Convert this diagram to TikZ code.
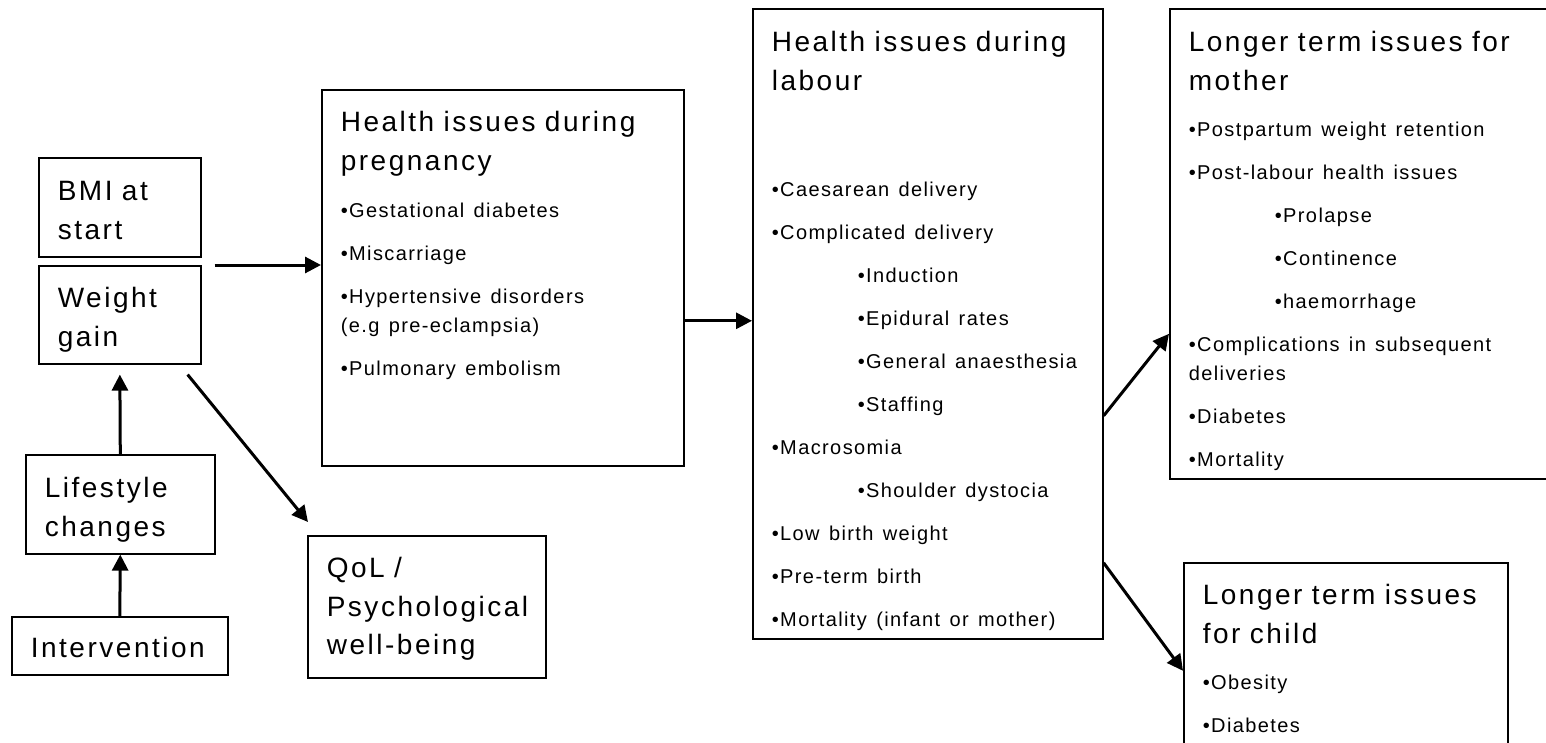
\documentclass[tikz,border=0pt]{standalone}
\usepackage{fontspec}
\setmainfont{Liberation Sans}[LetterSpace=7]
\usepackage{tikz}
\usetikzlibrary{arrows.meta}
\pgfdeclarelayer{nodelayer}
\pgfdeclarelayer{edgelayer}
\pgfsetlayers{edgelayer,nodelayer,main}
\newcommand{\headfont}{\addfontfeature{LetterSpace=9}\fontsize{28}{38.5}\selectfont}
\newcommand{\itemfont}{\addfontfeature{LetterSpace=7}\fontsize{20}{29}\selectfont}
\newcommand{\subbullet}{\hspace*{86pt}•}
\tikzstyle{box}=[fill=white, draw=black, line width=1.6pt, shape=rectangle, anchor=north west, inner xsep=19pt, inner ysep=0pt, align=left, font=\headfont]
\tikzstyle{directed edge}=[-{Triangle[length=16pt,width=16pt]}, line width=3pt]

\begin{document}
\begin{tikzpicture}[x=1pt, y=-1pt]
	\useasboundingbox (0, 0) rectangle (1546, 743);
	\begin{pgfonlayer}{nodelayer}
		\node [style=box, text width=124pt, text height=43pt, text depth=56pt] (0) at (38, 157) {BMI at\\start};
		\node [style=box, text width=124pt, text height=42pt, text depth=56pt] (1) at (38, 265) {Weight\\gain};
		\node [style=box, text width=151pt, text height=43pt, text depth=56pt] (2) at (25, 454) {Lifestyle\\changes};
		\node [style=box, text width=178pt, text height=41pt, text depth=17pt] (3) at (11, 616) {Intervention};
		\node [style=box, text width=200pt, text height=42pt, text depth=100pt] (4) at (307, 535) {QoL /\\Psychological\\well-being};
		\node [style=box, text width=324pt, text height=42pt, text depth=334pt] (5) at (321, 89) {Health issues during\\pregnancy\\[18pt]
			\itemfont •Gestational diabetes\\[14pt]•Miscarriage\\[14pt]•Hypertensive disorders\\(e.g pre-eclampsia)\\[14pt]•Pulmonary embolism\par};
		\node [style=box, text width=312pt, text height=43pt, text depth=587pt] (6) at (752, 8) {Health issues during\\labour\\[77pt]
			\itemfont •Caesarean delivery\\[14pt]•Complicated delivery\\[14pt]\subbullet Induction\\[14pt]\subbullet Epidural rates\\[14pt]\subbullet General~anaesthesia\\[14pt]\subbullet Staffing\\[14pt]
			•Macrosomia\\[14pt]\subbullet Shoulder dystocia\\[14pt]•Low birth weight\\[14pt]•Pre-term birth\\[14pt]•Mortality (infant or mother)\par};
		\node [style=box, text width=362pt, text height=43pt, text depth=427pt] (7) at (1169, 8) {Longer term issues for\\mother\\[17pt]
			\itemfont •Postpartum weight retention\\[14pt]•Post-labour health issues\\[14pt]\subbullet Prolapse\\[14pt]\subbullet Continence\\[14pt]\subbullet haemorrhage\\[14pt]
			•Complications in subsequent\\deliveries\\[14pt]•Diabetes\\[14pt]•Mortality\par};
		\node [style=box, text width=286pt, text height=42pt, text depth=174pt] (8) at (1183, 562) {Longer term~issues\\for child\\[17pt]
			\itemfont •Obesity\\[14pt]•Diabetes\par};
	\end{pgfonlayer}
	\begin{pgfonlayer}{edgelayer}
		\draw [style=directed edge, shorten <=13pt] (1.north east) to (1.north east -| 5.west);
		\draw [style=directed edge, shorten >=10pt] (2.north) to (1.south);
		\draw [style=directed edge] (3.north) to (2.south);
		\draw [style=directed edge] ([shift={(-14pt,-10pt)}]1.south east) to ([shift={(1pt,13pt)}]4.north west);
		\draw [style=directed edge] ([yshift=-43pt]5.east) to ([yshift=-43pt]5.east -| 6.west);
		\draw [style=directed edge] ([yshift=-92pt]6.east) to ([yshift=-90pt]7.west);
		\draw [style=directed edge] ([yshift=-239pt]6.east) to (8.west);
	\end{pgfonlayer}
\end{tikzpicture}
\end{document}
